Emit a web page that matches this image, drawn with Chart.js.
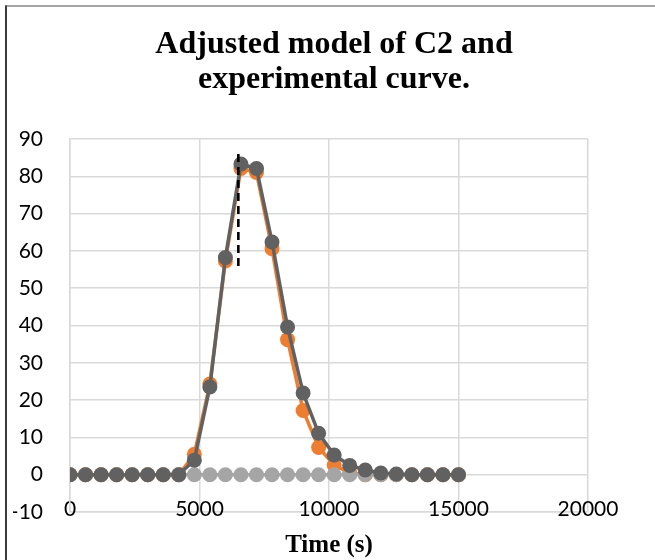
<!DOCTYPE html>
<html>
<head>
<meta charset="utf-8">
<script src="https://cdn.jsdelivr.net/npm/chart.js@4.4.0/dist/chart.umd.min.js"></script>
<style>
  html, body { margin: 0; padding: 0; background: #ffffff; }
  #wrap { width: 655px; height: 560px; position: relative; }
</style>
</head>
<body>
<div id="wrap"><canvas id="c" width="655" height="560"></canvas></div>
<script>
// ---- data ----
const timeS = [0, 600, 1200, 1800, 2400, 3000, 3600, 4200, 4800, 5400, 6000, 6600, 7200,
               7800, 8400, 9000, 9600, 10200, 10800, 11400, 12000, 12600, 13200, 13800, 14400, 15000];
const experimental = [0, 0, 0, 0, 0, 0, 0, 0, 5.5, 24.3, 57.3, 82.1, 81.0,
                      60.6, 36.2, 17.2, 7.3, 2.6, 0.5, 0, 0, 0, 0, 0, 0, 0];
const baseline = [0, 0, 0, 0, 0, 0, 0, 0, 0, 0, 0, 0, 0,
                  0, 0, 0, 0, 0, 0, 0, 0, 0, 0, 0, 0, 0];
const adjustedModel = [0, 0, 0, 0, 0, 0, 0, 0, 3.9, 23.5, 58.2, 83.3, 82.1,
                       62.4, 39.6, 21.9, 11.1, 5.3, 2.5, 1.25, 0.45, 0.2, 0, 0, 0, 0];
const markerX = [6500, 6500];
const markerY = [86, 55];
const xTicks = [0, 5000, 10000, 15000, 20000];
const yTicks = [-10, 0, 10, 20, 30, 40, 50, 60, 70, 80, 90];
const titleLines = ['Adjusted model of C2 and', 'experimental curve.'];
const xTitle = 'Time (s)';

const pts = (xs, ys) => xs.map((x, i) => ({ x: x, y: ys[i] }));

const frame = {
  id: 'frame',
  afterDraw(chart) {
    const ctx = chart.ctx;
    ctx.save();
    ctx.strokeStyle = '#3a3a3a';
    ctx.lineWidth = 2;
    ctx.beginPath();
    ctx.moveTo(6, 5.5);
    ctx.lineTo(6, 560);
    ctx.stroke();
    ctx.lineWidth = 1.2;
    ctx.strokeStyle = '#4a4a4a';
    ctx.beginPath();
    ctx.moveTo(5, 6);
    ctx.lineTo(655, 6);
    ctx.stroke();
    ctx.restore();
  }
};

const tickFont = { family: 'Lato, Carlito, Calibri, sans-serif', size: 21 };
const serifBold = { family: '"Liberation Serif", "Times New Roman", serif', weight: 'bold' };

new Chart(document.getElementById('c'), {
  type: 'line',
  data: {
    datasets: [
      {
        label: 'marker',
        data: pts(markerX, markerY),
        borderColor: '#000000',
        borderWidth: 2.6,
        borderDash: [8, 5],
        pointRadius: 0,
        order: 0
      },
      {
        label: 'Adjusted model',
        data: pts(timeS, adjustedModel),
        borderColor: '#616161',
        backgroundColor: '#616161',
        borderWidth: 3.5,
        pointRadius: 7.5,
        pointBorderWidth: 0,
        pointBackgroundColor: '#616161',
        order: 1
      },
      {
        label: 'Baseline',
        data: pts(timeS, baseline),
        borderColor: '#a5a5a5',
        backgroundColor: '#a5a5a5',
        borderWidth: 3.5,
        pointRadius: 7.5,
        pointBorderWidth: 0,
        pointBackgroundColor: '#a5a5a5',
        order: 2
      },
      {
        label: 'Experimental',
        data: pts(timeS, experimental),
        borderColor: '#ed7d31',
        backgroundColor: '#ed7d31',
        borderWidth: 3.5,
        pointRadius: 7.5,
        pointBorderWidth: 0,
        pointBackgroundColor: '#ed7d31',
        order: 3
      }
    ]
  },
  options: {
    responsive: false,
    animation: false,
    devicePixelRatio: 1,
    layout: { padding: { left: 13, right: 0, top: 0, bottom: 0 } },
    plugins: {
      legend: { display: false },
      tooltip: { enabled: false },
      title: {
        display: true,
        text: titleLines,
        color: '#000000',
        font: Object.assign({ size: 32, lineHeight: 1.1 }, serifBold),
        padding: { top: 27, bottom: 41.6 }
      }
    },
    scales: {
      x: {
        type: 'linear',
        min: 0,
        max: 20000,
        afterBuildTicks: (s) => { s.ticks = xTicks.map(v => ({ value: v })); },
        afterFit: (s) => { s.height = 48; },
        grid: { color: '#d9d9d9', lineWidth: 1.5, drawTicks: false },
        border: { color: '#d9d9d9', width: 1.5 },
        ticks: {
          font: tickFont, color: '#000000', mirror: true, padding: -10, maxRotation: 0,
          callback: (v) => String(v)
        },
        title: {
          display: true,
          text: xTitle,
          color: '#000000',
          font: Object.assign({ size: 25, lineHeight: 1.2 }, serifBold),
          padding: { top: 0, bottom: -1 }
        }
      },
      y: {
        min: -10,
        max: 90,
        afterBuildTicks: (s) => { s.ticks = yTicks.map(v => ({ value: v })); },
        afterFit: (s) => { s.width = 57; },
        grid: { color: '#d9d9d9', lineWidth: 1.5, drawTicks: false },
        border: { color: '#d9d9d9', width: 1.5 },
        ticks: { font: tickFont, color: '#000000', padding: 27 }
      },
      yRight: {
        position: 'right',
        min: -10,
        max: 90,
        afterFit: (s) => { s.width = 67; },
        grid: { display: false, drawTicks: false },
        border: { display: false },
        ticks: { display: false }
      }
    }
  },
  plugins: [frame]
});
</script>
</body>
</html>
